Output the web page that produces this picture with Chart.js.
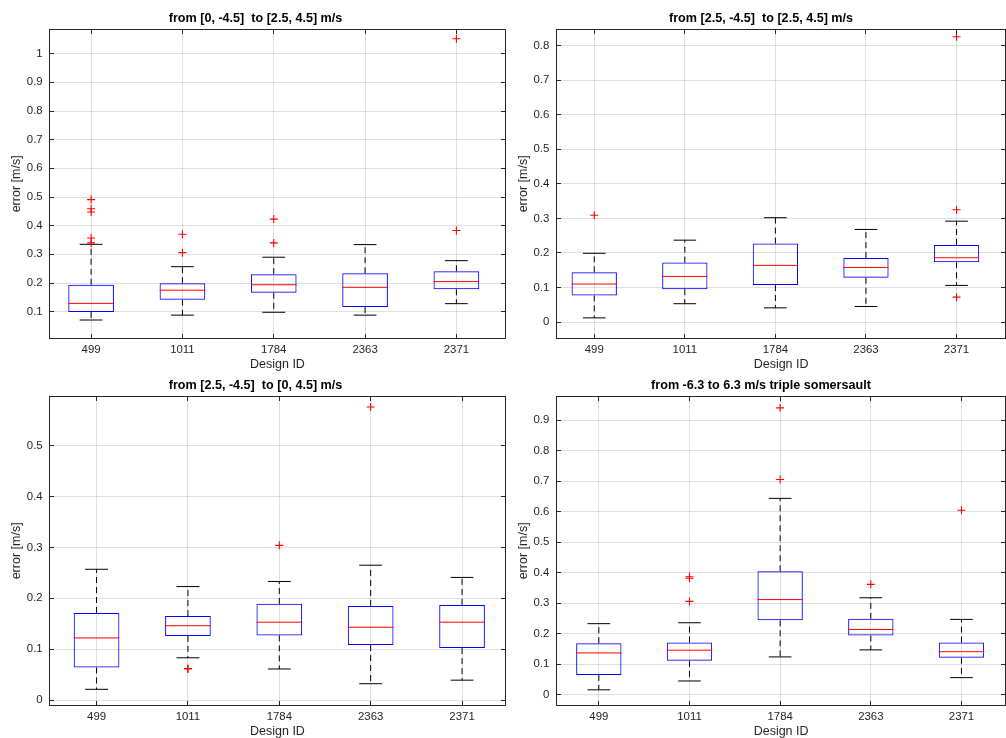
<!DOCTYPE html>
<html>
<head>
<meta charset="utf-8">
<script src="https://cdn.jsdelivr.net/npm/chart.js@4.4.1/dist/chart.umd.min.js"></script>
<style>
  html, body { margin:0; padding:0; background:#fff; width:1006px; height:738px; overflow:hidden; }
  .panel { position:absolute; }
  canvas { display:block; }
</style>
</head>
<body>
<div class="panel" style="left:0px;top:0px;width:511px;height:380px"><canvas id="c1" width="511" height="380"></canvas></div>
<div class="panel" style="left:511px;top:0px;width:500px;height:380px"><canvas id="c2" width="500" height="380"></canvas></div>
<div class="panel" style="left:0px;top:367px;width:511px;height:380px"><canvas id="c3" width="511" height="380"></canvas></div>
<div class="panel" style="left:511px;top:367px;width:500px;height:380px"><canvas id="c4" width="500" height="380"></canvas></div>
<script>
// ---------------- data ----------------
const designIds = ['499', '1011', '1784', '2363', '2371'];
const xLabel = 'Design ID';
const yLabel = 'error [m/s]';

// panel 1
const p1Title  = 'from [0, -4.5]  to [2.5, 4.5] m/s';
const p1Low    = [0.071, 0.088, 0.098, 0.088, 0.128];
const p1Q1     = [0.099, 0.142, 0.166, 0.116, 0.178];
const p1Median = [0.129, 0.175, 0.194, 0.185, 0.205];
const p1Q3     = [0.194, 0.199, 0.231, 0.234, 0.241];
const p1High   = [0.335, 0.257, 0.290, 0.334, 0.278];
const p1OutIdx = [1, 1, 1, 1, 1, 2, 2, 3, 3, 5, 5];
const p1OutVal = [0.491, 0.459, 0.448, 0.357, 0.340, 0.370, 0.306, 0.423, 0.340, 1.052, 0.383];
const p1YTicks = [0.1, 0.2, 0.3, 0.4, 0.5, 0.6, 0.7, 0.8, 0.9, 1];

// panel 2
const p2Title  = 'from [2.5, -4.5]  to [2.5, 4.5] m/s';
const p2Low    = [0.012, 0.053, 0.041, 0.045, 0.106];
const p2Q1     = [0.077, 0.095, 0.107, 0.128, 0.173];
const p2Median = [0.110, 0.132, 0.164, 0.158, 0.186];
const p2Q3     = [0.144, 0.172, 0.227, 0.185, 0.223];
const p2High   = [0.199, 0.237, 0.302, 0.268, 0.292];
const p2OutIdx = [1, 5, 5, 5];
const p2OutVal = [0.309, 0.826, 0.325, 0.072];
const p2YTicks = [0, 0.1, 0.2, 0.3, 0.4, 0.5, 0.6, 0.7, 0.8];

// panel 3
const p3Title  = 'from [2.5, -4.5]  to [0, 4.5] m/s';
const p3Low    = [0.021, 0.083, 0.061, 0.032, 0.039];
const p3Q1     = [0.064, 0.126, 0.127, 0.108, 0.102];
const p3Median = [0.122, 0.146, 0.153, 0.143, 0.153];
const p3Q3     = [0.171, 0.165, 0.189, 0.185, 0.187];
const p3High   = [0.257, 0.223, 0.233, 0.265, 0.241];
const p3OutIdx = [2, 2, 3, 4];
const p3OutVal = [0.062, 0.061, 0.304, 0.576];
const p3YTicks = [0, 0.1, 0.2, 0.3, 0.4, 0.5];

// panel 4
const p4Title  = 'from -6.3 to 6.3 m/s triple somersault';
const p4Low    = [0.016, 0.045, 0.124, 0.147, 0.056];
const p4Q1     = [0.065, 0.111, 0.244, 0.194, 0.121];
const p4Median = [0.137, 0.146, 0.312, 0.214, 0.141];
const p4Q3     = [0.169, 0.171, 0.405, 0.249, 0.171];
const p4High   = [0.233, 0.236, 0.644, 0.318, 0.247];
const p4OutIdx = [2, 2, 2, 3, 3, 4, 5];
const p4OutVal = [0.306, 0.387, 0.382, 0.706, 0.941, 0.362, 0.605];
const p4YTicks = [0, 0.1, 0.2, 0.3, 0.4, 0.5, 0.6, 0.7, 0.8, 0.9];

// ---------------- styling / layout ----------------
const FONT = "'Liberation Sans', Arial, Helvetica, sans-serif";
const AXIS_COLOR = '#262626';
const GRID_COLOR = 'rgba(38,38,38,0.15)';
const BOX_HALF = 0.25;
const CAP_HALF = 0.125;
const TICK_LEN = 4.5;

const GEOM_LEFT  = { padL: 3.7, padR: 3.7, yAxisW: 45.3, yTitlePad: 5.8, yTickPad: 6.3 };
const GEOM_RIGHT = { padL: 0,   padR: 0,   yAxisW: 45.3, yTitlePad: 5.5, yTickPad: 7.0 };

function alignPx(p) { return Math.round(p - 0.5) + 0.5; }

const framePlugin = {
  id: 'matlabFrame',
  afterDraw(chart) {
    const { ctx, chartArea: a, scales: { x, y } } = chart;
    const L = alignPx(a.left), R = alignPx(a.right), T = alignPx(a.top), B = alignPx(a.bottom);
    ctx.save();
    ctx.strokeStyle = AXIS_COLOR;
    ctx.lineWidth = 1;
    ctx.beginPath();
    x.ticks.forEach(t => {
      const px = alignPx(x.getPixelForValue(t.value));
      ctx.moveTo(px, B); ctx.lineTo(px, B - TICK_LEN);
      ctx.moveTo(px, T); ctx.lineTo(px, T + TICK_LEN);
    });
    y.ticks.forEach(t => {
      const py = alignPx(y.getPixelForValue(t.value));
      ctx.moveTo(L, py); ctx.lineTo(L + TICK_LEN, py);
      ctx.moveTo(R, py); ctx.lineTo(R - TICK_LEN, py);
    });
    ctx.stroke();
    ctx.strokeRect(L, T, R - L, B - T);
    ctx.restore();
  }
};

function boxDatasets(low, q1, med, q3, high, outIdx, outVal) {
  const whisk = [], caps = [], meds = [];
  designIds.forEach((_, i) => {
    const c = i + 1;
    whisk.push({x: c, y: q3[i]}, {x: c, y: high[i]}, {x: c, y: null},
               {x: c, y: q1[i]}, {x: c, y: low[i]}, {x: c, y: null});
    caps.push({x: c - CAP_HALF, y: high[i]}, {x: c + CAP_HALF, y: high[i]}, {x: c, y: null},
              {x: c - CAP_HALF, y: low[i]}, {x: c + CAP_HALF, y: low[i]}, {x: c, y: null});
    meds.push({x: c - BOX_HALF, y: med[i]}, {x: c + BOX_HALF, y: med[i]}, {x: c, y: null});
  });
  return [
    { type: 'scatter', data: outIdx.map((k, j) => ({x: k, y: outVal[j]})),
      pointStyle: 'cross', pointRadius: 4, borderColor: '#ff0000', pointBorderColor: '#ff0000',
      backgroundColor: '#ff0000', pointBorderWidth: 1.1, borderWidth: 1.1, showLine: false, order: 0 },
    { type: 'line', data: meds, borderColor: '#ff0000', borderWidth: 1, pointRadius: 0,
      fill: false, spanGaps: false, tension: 0, order: 1 },
    { type: 'bar', data: designIds.map((_, i) => ({x: i + 1, y: [q1[i], q3[i]]})),
      borderColor: '#0000ff', backgroundColor: 'rgba(0,0,0,0)', borderWidth: 1, borderSkipped: false,
      barPercentage: 2 * BOX_HALF, categoryPercentage: 1, order: 2 },
    { type: 'line', data: caps, borderColor: '#000000', borderWidth: 1, pointRadius: 0,
      fill: false, spanGaps: false, tension: 0, order: 3 },
    { type: 'line', data: whisk, borderColor: '#000000', borderWidth: 1, borderDash: [6, 4], pointRadius: 0,
      fill: false, spanGaps: false, tension: 0, order: 4 }
  ];
}

function makeChart(id, title, low, q1, med, q3, high, outIdx, outVal, yTicks, xRange, yRange, g) {
  return new Chart(document.getElementById(id), {
    type: 'bar',
    data: { datasets: boxDatasets(low, q1, med, q3, high, outIdx, outVal) },
    options: {
      responsive: false,
      animation: false,
      devicePixelRatio: 1,
      events: [],
      layout: { padding: { left: g.padL, right: g.padR, top: 0, bottom: 0 } },
      plugins: {
        legend: { display: false },
        tooltip: { enabled: false },
        title: {
          display: true, text: title, color: '#000000',
          font: { family: FONT, size: 12.6, weight: 'bold', lineHeight: 1.2 },
          padding: { top: 10.9, bottom: 3 }
        }
      },
      scales: {
        x: {
          type: 'linear', min: xRange[0], max: xRange[1], offset: false,
          afterBuildTicks: s => { s.ticks = designIds.map((_, i) => ({ value: i + 1 })); },
          afterFit: s => { s.height = 41.3; },
          ticks: {
            callback: (v, i) => designIds[i], color: AXIS_COLOR, padding: 4.5,
            maxRotation: 0, autoSkip: false, font: { family: FONT, size: 11.4 }
          },
          grid: { color: GRID_COLOR, lineWidth: 1, drawTicks: false, offset: false },
          border: { display: false },
          title: { display: true, text: xLabel, color: AXIS_COLOR,
                   font: { family: FONT, size: 12.5, lineHeight: 1.2 }, padding: { top: 0, bottom: 7.5 } }
        },
        y: {
          type: 'linear', min: yRange[0], max: yRange[1], beginAtZero: false,
          afterBuildTicks: s => { s.ticks = yTicks.map(v => ({ value: v })); },
          afterFit: s => { s.width = g.yAxisW; },
          ticks: {
            callback: v => String(v), color: AXIS_COLOR, padding: g.yTickPad,
            autoSkip: false, font: { family: FONT, size: 11.4 }
          },
          grid: { color: GRID_COLOR, lineWidth: 1, drawTicks: false },
          border: { display: false },
          title: { display: true, text: yLabel, color: AXIS_COLOR,
                   font: { family: FONT, size: 12.5, lineHeight: 1.2 }, padding: { top: g.yTitlePad, bottom: 0 } }
        }
      }
    },
    plugins: [framePlugin]
  });
}

makeChart('c1', p1Title, p1Low, p1Q1, p1Median, p1Q3, p1High, p1OutIdx, p1OutVal, p1YTicks,
          [0.539, 5.542], [0.0058, 1.086], GEOM_LEFT);
makeChart('c2', p2Title, p2Low, p2Q1, p2Median, p2Q3, p2High, p2OutIdx, p2OutVal, p2YTicks,
          [0.581, 5.545], [-0.0483, 0.8483], GEOM_RIGHT);
makeChart('c3', p3Title, p3Low, p3Q1, p3Median, p3Q3, p3High, p3OutIdx, p3OutVal, p3YTicks,
          [0.4795, 5.48], [-0.0112, 0.5976], GEOM_LEFT);
makeChart('c4', p4Title, p4Low, p4Q1, p4Median, p4Q3, p4High, p4OutIdx, p4OutVal, p4YTicks,
          [0.531, 5.49], [-0.0361, 0.9798], GEOM_RIGHT);
</script>
</body>
</html>
